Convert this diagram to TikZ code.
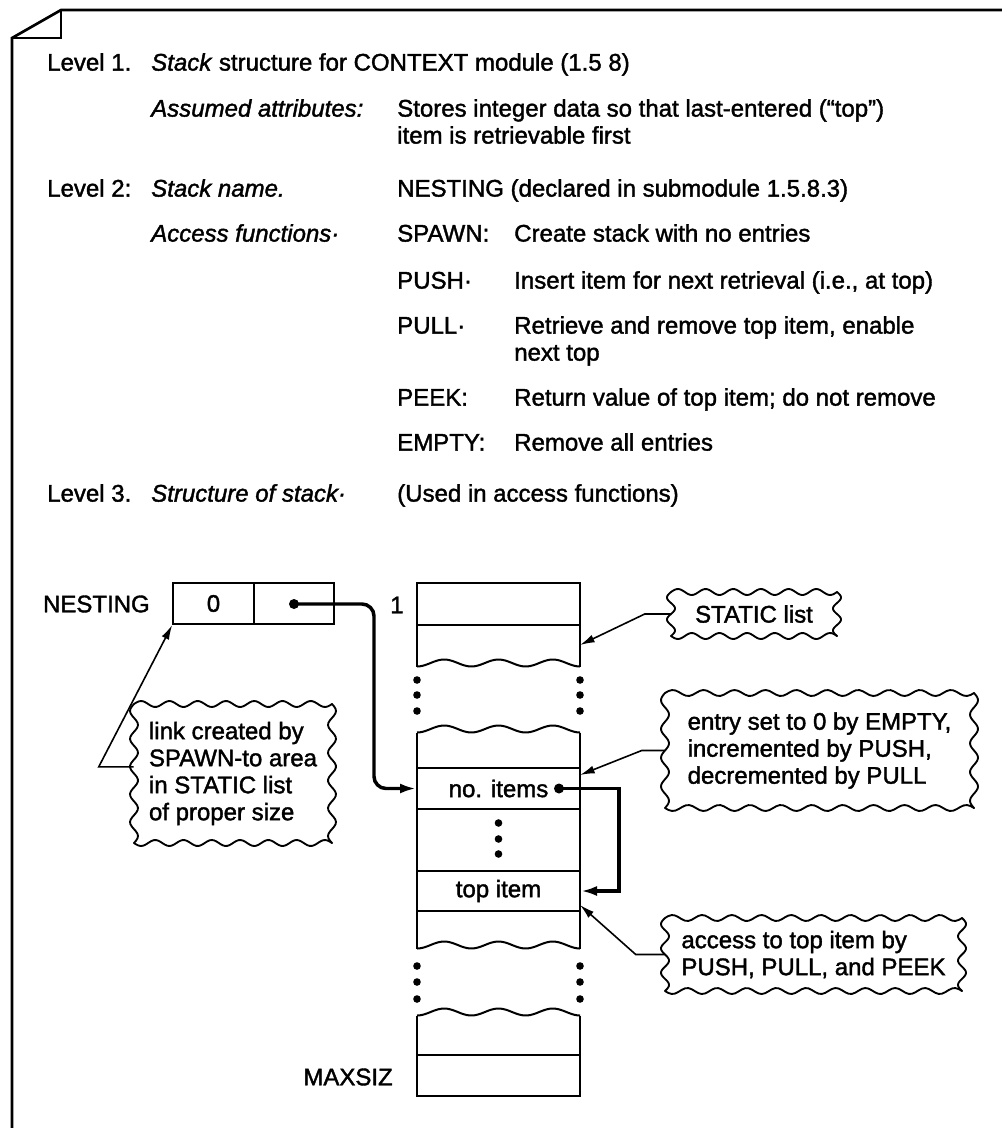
\documentclass[tikz,border=0pt]{standalone}
\usepackage{fontspec}
\setmainfont[FakeBold=1.6]{Liberation Sans}
\usetikzlibrary{arrows.meta}
\newcommand\mywave[3]{\draw[line width=1.5pt] plot[domain=#1:#2, samples=60, smooth] (\x,{#3+3.5*cos(1080*((\x-#1)/(#2-#1)))});}
\newcommand\cloudbox[4]{%
  \pgfmathtruncatemacro\cbnh{max(2,round((#3-#1)/30))}%
  \pgfmathtruncatemacro\cbnv{max(1,round((#4-#2)/28))}%
  \draw[cloudline] plot[domain=#1:#3, samples=90, smooth] (\x,{#2-3*sin(360*\cbnh*((\x-#1)/(#3-#1)))});
  \draw[cloudline] plot[domain=#1:#3, samples=90, smooth] (\x,{#4+3*sin(360*\cbnh*((\x-#1)/(#3-#1)))});
  \draw[cloudline] plot[domain=#2:#4, samples=60, smooth] ({#1-4*sin(360*\cbnv*((\x-#2)/(#4-#2)))},\x);
  \draw[cloudline] plot[domain=#2:#4, samples=60, smooth] ({#3+4*sin(360*\cbnv*((\x-#2)/(#4-#2)))},\x);
}
\begin{document}
\begin{tikzpicture}[x=0.75pt,y=-0.75pt,
  font=\fontsize{18}{20.25}\selectfont,
  frame/.style={line width=2pt},
  txt/.style={inner sep=0pt, anchor=base west},
  stackcell/.style={draw, line width=1.5pt, inner sep=0pt, minimum width=122.25pt},
  boxcell/.style={draw, line width=1.5pt, inner sep=0pt, minimum width=60.5pt, minimum height=30.75pt},
  callout/.style={align=left, inner sep=0pt},
  cloudline/.style={line width=1.4pt, line cap=round},
  ptrdot/.style={circle, fill, inner sep=0pt, minimum size=7.5pt},
  ptr/.style={line width=1.2pt, -{Latex[length=11pt,width=6pt]}},
  lnk/.style={line width=2.6pt, -{Latex[length=12pt,width=7.5pt]}}
]
\useasboundingbox (0,0) rectangle (1002,1128);
% frame with folded corner
\draw[frame] (12,1128) -- (12,38) -- (61,10) -- (1002,10);
\draw[frame] (12,38) -- (61,38) -- (61,10);

% text block
\node[txt] (l1) at (47,70.6) {Level 1.};
\node[txt] (l1t) at (151,70.6) {\textit{Stack} structure for CONTEXT module (1.5 8)};
\node[txt] (aa) at (151,116.6) {\textit{Assumed attributes:}};
\node[txt] (aat1) at (397,116.6) {Stores integer data so that last-entered (“top”)};
\node[txt] (aat2) at (397,143.6) {item is retrievable first};
\node[txt] (l2) at (47,196.6) {Level 2:};
\node[txt] (sn) at (151,196.6) {\textit{Stack name.}};
\node[txt] (snt) at (397,196.6) {NESTING (declared in submodule 1.5.8.3)};
\node[txt] (af) at (151,241.6) {\textit{Access functions·}};
\node[txt] (f1) at (397,241.6) {SPAWN:};
\node[txt] (f1t) at (514,241.6) {Create stack with no entries};
\node[txt] (f2) at (397,288.6) {PUSH·};
\node[txt] (f2t) at (514,288.6) {Insert item for next retrieval (i.e., at top)};
\node[txt] (f3) at (397,333.6) {PULL·};
\node[txt] (f3t) at (514,333.6) {Retrieve and remove top item, enable};
\node[txt] (f3u) at (514,360.6) {next top};
\node[txt] (f4) at (397,405.6) {PEEK:};
\node[txt] (f4t) at (514,405.6) {Return value of top item; do not remove};
\node[txt] (f5) at (397,450.6) {EMPTY:};
\node[txt] (f5t) at (514,450.6) {Remove all entries};
\node[txt] (l3) at (47,501.6) {Level 3.};
\node[txt] (ss) at (151,501.6) {\textit{Structure of stack·}};
\node[txt] (sst) at (397,501.6) {(Used in access functions)};

% NESTING box
\node[inner sep=0pt, anchor=east] (nest) at (150,604) {NESTING};
\node[boxcell] (b0) at (213.5,603.5) {0};
\node[boxcell] (b1) at (294,603.5) {};
\node[ptrdot] (pd) at (294,604) {};

% stack: segment 1
\node[inner sep=0pt] (one) at (397,605) {1};
\node[stackcell, minimum height=31.5pt] (r1) at (498.5,604) {};
\draw[line width=1.5pt] (417,625) -- (417,666.5) (580,625) -- (580,666.5);
\mywave{417}{580}{663}
\foreach \yy in {680,695,711} {\fill (417,\yy) circle (3.8); \fill (580,\yy) circle (3.8);}

% segment 2
\mywave{417}{580}{729}
\draw[line width=1.5pt] (417,732.5) -- (417,768) (580,732.5) -- (580,768);
\node[stackcell, minimum height=30.75pt] (noItems) at (498.5,788.5) {no. items};
\node[ptrdot] (nd) at (559,788.5) {};
\node[stackcell, minimum height=46.5pt] (dotsRow) at (498.5,840) {};
\foreach \yy in {823,839,854} {\fill (498.5,\yy) circle (3.8);}
\node[stackcell, minimum height=30pt] (topItem) at (498.5,891) {top item};
\draw[line width=1.5pt] (417,911) -- (417,948.5) (580,911) -- (580,948.5);
\mywave{417}{580}{945}
\foreach \yy in {966,982,999} {\fill (417,\yy) circle (3.8); \fill (580,\yy) circle (3.8);}

% segment 3
\mywave{417}{580}{1012}
\draw[line width=1.5pt] (417,1015.5) -- (417,1055) (580,1015.5) -- (580,1055);
\node[stackcell, minimum height=30.75pt] (maxRow) at (498.5,1075.5) {};
\node[inner sep=0pt, anchor=east] (maxl) at (393,1077) {MAXSIZ};

% callouts
\node[callout, minimum width=124.5pt, minimum height=33pt] (staticC) at (754,614) {STATIC list};
\cloudbox{671}{592}{837}{636}
\node[callout, minimum width=231.75pt, minimum height=86.25pt] (entryC) at (819.5,750.5) {entry set to 0 by EMPTY,\\incremented by PUSH,\\decremented by PULL};
\cloudbox{665}{693}{974}{808}
\node[callout, minimum width=222.75pt, minimum height=54.75pt] (accessC) at (813.5,954.5) {access to top item by\\PUSH, PULL, and PEEK};
\cloudbox{665}{918}{962}{991}
\node[callout, minimum width=148.5pt, minimum height=104.25pt] (linkC) at (233,773.5) {link created by\\SPAWN-to area\\in STATIC list\\of proper size};
\cloudbox{134}{704}{332}{843}

% connectors
\coordinate (a1) at (580,645);
\coordinate (a2) at (580,775);
\coordinate (a3) at (580,905);
\draw[ptr] (staticC.west) -- ++(-26,0) -- (a1);
\draw[ptr] (entryC.west) -- ++(-23,0) -- (a2);
\draw[ptr] (accessC.west) -- ++(-29,0) -- (a3);
\draw[ptr] ([yshift=5pt]linkC.west) -- ++(-35,0) -- (b0.south west);
\draw[lnk, rounded corners=9pt] (pd.center) -- (374,604) -- (374,788.5) -- (noItems.west);
\draw[lnk] (nd.center) -- ++(60,0) |- (topItem.east);
\end{tikzpicture}
\end{document}
